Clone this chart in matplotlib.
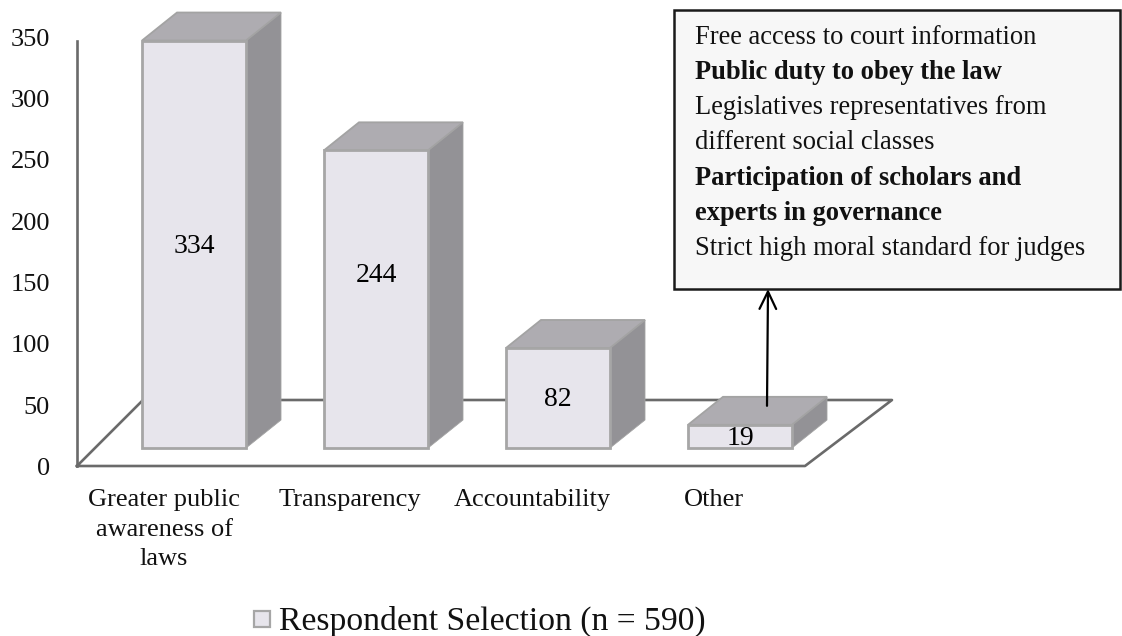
import matplotlib
matplotlib.use('Agg')
import matplotlib.pyplot as plt
from matplotlib.patches import Polygon, Rectangle

categories = ['Greater public\nawareness of\nlaws', 'Transparency', 'Accountability', 'Other']
values = [334, 244, 82, 19]
y_ticks = [0, 50, 100, 150, 200, 250, 300, 350]
legend_label = 'Respondent Selection (n = 590)'
note_lines = ['Free access to court information', 'Public duty to obey the law',
              'Legislatives representatives from', 'different social classes',
              'Participation of scholars and', 'experts in governance',
              'Strict high moral standard for judges']
note_bold = [False, True, False, False, True, True, False]

W, H = 1122, 636
PX_Y = 1.22  # pixels per value unit
PX_X = 182.0  # pixels per category
SERIF = ['Liberation Serif', 'DejaVu Serif']
plt.rcParams['font.family'] = SERIF
TEXT = '#111111'

fig = plt.figure(figsize=(W / 100, H / 100), dpi=100)
ax = fig.add_axes([0, 0, 1, 1])
ax.set_xlim(-194 / PX_X, (W - 194) / PX_X)
ax.set_ylim((448 - H) / PX_Y, 448 / PX_Y)
ax.axis('off')

bar_w = 104 / PX_X
dx = 35 / PX_X
dy = 28 / PX_Y
floor = -18 / PX_Y  # front edge of the floor sits below the bar bases
back = floor + 66 / PX_Y
axis_x = -117 / PX_X

# floor and wall axis
floor_x = [axis_x, axis_x + 66 / PX_X, 698 / PX_X, 611 / PX_X]
floor_y = [floor, back, back, floor]
ax.plot(floor_x + [floor_x[0]], floor_y + [floor_y[0]], color='#6a6a6a', lw=1.9, zorder=1)
ax.plot([axis_x, axis_x], [floor, floor + 348.4], color='#6a6a6a', lw=1.9, zorder=1)

label_nudge = {1: 26 / PX_Y}  # the 244 label sits above the middle of its bar
for i, (cat, val) in enumerate(zip(categories, values)):
    left, right = i - bar_w / 2, i + bar_w / 2
    ax.add_patch(Polygon([(right, 0), (right + dx, dy), (right + dx, val + dy), (right, val)],
                         fc='#939296', ec='#a3a3a3', lw=0.6, zorder=2))
    ax.add_patch(Polygon([(left, val), (left + dx, val + dy), (right + dx, val + dy), (right, val)],
                         fc='#aeacb1', ec='#a3a3a3', lw=1.3, zorder=2))
    ax.add_patch(Rectangle((left, 0), bar_w, val, fc='#e7e5ec', ec='#a6a6a6', lw=2, zorder=3))
    ax.text(i, val / 2 + label_nudge.get(i, 0) - 2 / PX_Y, str(val), ha='center', va='center',
            fontsize=20, color='black', zorder=4)
    ax.text(i - (30 if i == 0 else 26) / PX_X, -41 / PX_Y, cat, ha='center', va='top', fontsize=19,
            linespacing=1.45, color=TEXT)

for t in y_ticks:
    ax.text(axis_x - 27 / PX_X, floor + t * 1.005 - 3 / PX_Y, str(t), ha='right', va='center', fontsize=19, color=TEXT)

# note box
box_x0, box_x1 = (674 - 194) / PX_X, (1120 - 194) / PX_X
box_y0, box_y1 = (448 - 289) / PX_Y, (448 - 10) / PX_Y
ax.add_patch(Rectangle((box_x0, box_y0), box_x1 - box_x0, box_y1 - box_y0,
                       fc='#f7f7f7', ec='#1a1a1a', lw=1.8, zorder=5))
for k, (line, bold) in enumerate(zip(note_lines, note_bold)):
    ax.text((695 - 194) / PX_X, (448 - 37 - k * 35.3) / PX_Y, line, ha='left', va='center',
            fontsize=19.1, fontweight='bold' if bold else 'normal', color=TEXT, zorder=6)

# arrow from the last bar up to the box
ax.annotate('', xy=(3 + 28 / PX_X, box_y0), xytext=(3 + 27 / PX_X, 19 + dy - 9 / PX_Y),
            arrowprops=dict(arrowstyle='->,head_length=1.25,head_width=0.6', color='black', lw=1.6,
                            shrinkA=0, shrinkB=0), zorder=7)

# legend
ax.add_patch(Rectangle(((254 - 194) / PX_X, (448 - 627) / PX_Y), 16 / PX_X, 16 / PX_Y,
                       fc='#e7e5ec', ec='#a6a6a6', lw=1.6, zorder=3))
ax.text((279 - 194) / PX_X, (448 - 630) / PX_Y, legend_label, ha='left', va='baseline', fontsize=24.2, color=TEXT)

fig.savefig('out.png', dpi=100)
